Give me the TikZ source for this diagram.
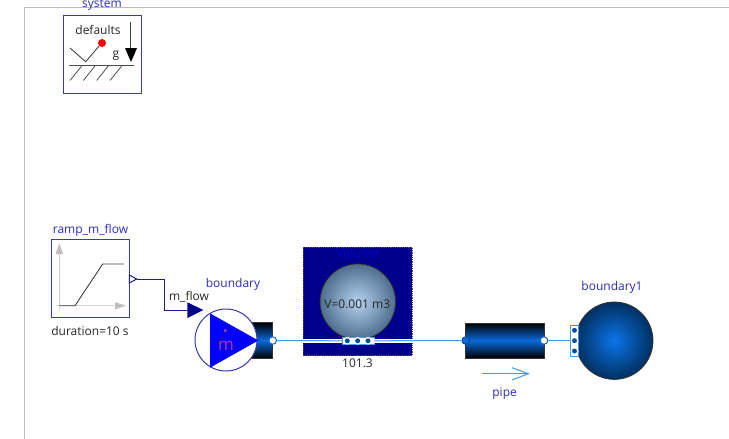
\documentclass[tikz,border=0pt]{standalone}
\usepackage{fontspec}
\setmainfont{Open Sans}
\usetikzlibrary{arrows.meta}
\definecolor{lbl}{HTML}{2B2BB8}
\definecolor{navyline}{HTML}{1C1C8E}
\definecolor{boxline}{HTML}{3A3AA8}
\definecolor{portblue}{HTML}{0A6ADB}
\definecolor{flow}{HTML}{3D9BEA}
\definecolor{volnavy}{HTML}{00008C}
\definecolor{framegray}{HTML}{BDBDBD}
\definecolor{volin}{HTML}{B4D2EE}
\definecolor{volout}{HTML}{4F6E8E}
\definecolor{sphin}{HTML}{0A74E8}
\definecolor{sphout}{HTML}{003060}
\tikzset{
  txt/.style={font=\fontsize{12}{14}\selectfont,inner sep=0pt,text=black!85},
  name label/.style={txt,text=lbl},
  iconbox/.style={draw=boxline,line width=1pt,fill=white,inner sep=0pt,minimum width=#1,minimum height=78pt},
  pipebody/.style={draw=black!80,line width=.6pt,inner sep=0pt,top color=black,bottom color=black,middle color=portblue},
  portcircle/.style={circle,draw=#1,line width=1pt,inner sep=0pt,minimum size=7.5pt},
  smallport/.style={circle,draw=white,line width=1.2pt,fill=portblue!70!black,inner sep=0pt,minimum size=6.5pt},
  portframe/.style={draw=flow,line width=.8pt,fill=white,inner sep=0pt},
  flowline/.style={draw=flow,line width=1pt},
  sigline/.style={draw=navyline,line width=1pt},
}
\begin{document}
\begin{tikzpicture}[x=1pt,y=-1pt]
\useasboundingbox (0,0) rectangle (729,439);
\draw[framegray,line width=1pt] (729,7.5) -- (24.5,7.5) -- (24.5,439);

% system
\node[iconbox=78pt] (sys) at (102,54) {};
\node[name label] (syslabel) at (102,5) {system};
\node[txt] (deflabel) at (98,29.5) {defaults};
\node[txt] (glabel) at (116,55.5) {g};
\draw[black!80,line width=.8pt] (70,48) -- (85.7,61.7) -- (100,45);
\node[circle,fill=red,inner sep=0pt,minimum size=8pt] (reddot) at (102,43) {};
\draw[black!75,line width=1pt] (130.7,22) -- (130.7,50);
\fill[black] (125,48) -- (137,48) -- (131,62) -- cycle;
\draw[black!70,line width=1.2pt] (69,65.7) -- (134,65.7);
\foreach \xa in {81.7,95,108.3,121.7}
  \draw[black!75,line width=.7pt] (\xa,66) -- ({\xa-11.7},80.5);

% ramp
\node[iconbox=77.5pt] (ramp) at (90.5,278.7) {};
\node[name label] (ramplabel) at (90.5,230) {ramp\_m\_flow};
\node[txt] (durlabel) at (90,331) {duration=10 s};
\draw[black!20,line width=1pt] (59.3,310) -- (59.3,250);
\fill[black!25] (59.3,243) -- (63,254) -- (55.6,254) -- cycle;
\draw[black!15,line width=1pt] (56,305.7) -- (118,305.7);
\fill[black!25] (126,305.7) -- (115,302) -- (115,309.4) -- cycle;
\draw[black!75,line width=.9pt] (59.3,305.7) -- (75,305.7) -- (102.7,264) -- (124,264);
\coordinate (rampout) at (136.7,279);
\coordinate (minp) at (187.3,310);
\draw[sigline,fill=white] (129.3,275) -- (rampout) -- (129.3,283) -- cycle;
\draw[sigline] (rampout) -- (164,279) -- (164,310) -- (minp);
\fill[volnavy] (187.3,302.3) -- (203.3,310) -- (187.3,318) -- cycle;
\node[txt] (mflowlabel) at (189,296.5) {m\_flow};

% boundary
\node[name label] (boundlabel) at (233,284) {boundary};
\node[pipebody,minimum width=21pt,minimum height=35.5pt] (bpipe) at (262.2,340.5) {};
\node[circle,draw=boxline,line width=1pt,fill=white,inner sep=0pt,minimum size=62pt] (bcirc) at (226,340) {};
\fill[blue] (210,313.3) -- (258.3,340.5) -- (210,367.7) -- cycle;
\node[inner sep=0pt,text=black!35!magenta,font=\fontsize{17}{17}\selectfont] (mdot) at (226,346) {m};
\node[circle,fill=black!35!magenta,inner sep=0pt,minimum size=3.6pt] (dot) at (225.3,330.7) {};

% volume
\node[draw=black!70,densely dotted,fill=volnavy,line width=.8pt,inner sep=0pt,minimum width=109pt,minimum height=108.4pt] (vol) at (357.8,301.5) {};
\node[txt,text=blue!80!black] (vollabel) at (357.5,252.7) {Volume};
\node[circle,draw=black!80,line width=.8pt,inner sep=0pt,minimum size=75.5pt,shade,inner color=volin,outer color=volout] (sph) at (357.8,301.7) {};
\node[txt] (vtext) at (357.3,304.5) {V=0.001 m3};
\node[txt] (plabel) at (357.5,363) {101.3};

% pipe
\node[pipebody,minimum width=78.3pt,minimum height=34.7pt] (pipe) at (504.9,340.5) {};
\node[name label] (pipelabel) at (504.6,394) {pipe};
\coordinate (arrowA) at (481.7,373.7);
\coordinate (arrowB) at (528.3,373.7);
\draw[flowline] (arrowA) -- (arrowB);
\draw[flowline] (512,367.7) -- (arrowB) -- (512,380);

% boundary1
\node[circle,draw=black!80,line width=.8pt,inner sep=0pt,minimum size=77.4pt,shade,inner color=sphin,outer color=sphout] (sphere) at (614.3,340.7) {};
\node[name label] (b1label) at (612,287.5) {boundary1};
\node[portframe,minimum width=8pt,minimum height=31.7pt] (b1frame) at (574.3,340.8) {};
\node[smallport] (b1pa) at (574.5,330.3) {};
\node[smallport] (b1pb) at (574.5,340.7) {};
\node[smallport] (b1pc) at (574.5,351) {};

% ports and connectors
\node[portframe,minimum width=31.7pt,minimum height=7.7pt] (vframe) at (358.1,340.8) {};
\node[portcircle=portblue,fill=white] (bport) at (272.7,340.5) {};
\node[portcircle=black!30!portblue,fill=portblue] (pipein) at (465.7,340.5) {};
\node[portcircle=portblue,fill=white] (pipeout) at (544,340.5) {};
\begin{scope}[on background layer/.style={}]
\draw[white,line width=3.4pt] (vol.west |- vframe) -- (vframe.west);
\draw[white,line width=3.4pt] (vframe.east) -- (vol.east |- vframe);
\end{scope}
\draw[flowline] (bport) -- (vframe.west);
\draw[flowline] (vframe.east) -- (pipein);
\draw[flowline] (pipeout) -- (b1frame.west |- pipeout);
\node[smallport,draw=white,minimum size=6.5pt] (vpa) at (347.3,340.8) {};
\node[smallport,minimum size=6.5pt] (vpb) at (357.7,340.8) {};
\node[smallport,minimum size=6.5pt] (vpc) at (368,340.8) {};
\end{tikzpicture}
\end{document}
